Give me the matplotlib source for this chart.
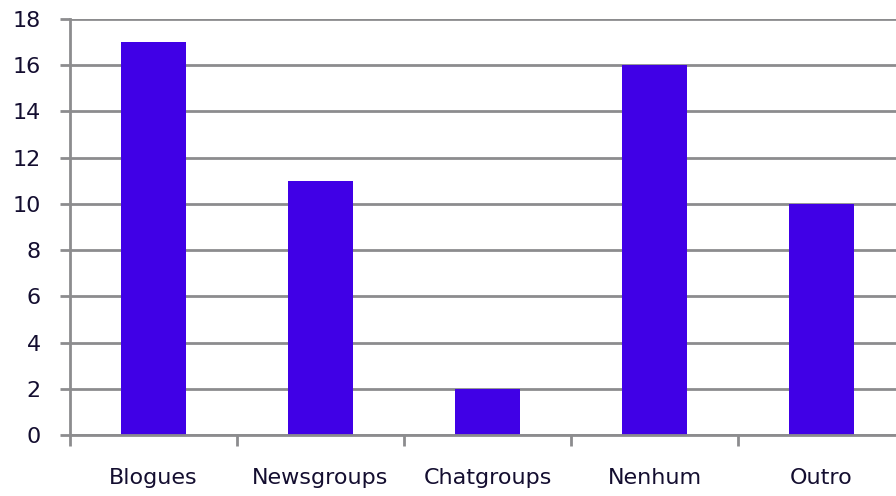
import matplotlib
matplotlib.use("Agg")
import matplotlib.pyplot as plt
import numpy as np

categories = ["Blogues", "Newsgroups", "Chatgroups", "Nenhum", "Outro"]
values = [17, 11, 2, 16, 10]
y_ticks = [0, 2, 4, 6, 8, 10, 12, 14, 16, 18]

bar_color = "#4000E6"
grid_color = "#8C8C8E"
text_color = "#140E30"

fig = plt.figure(figsize=(8.96, 4.96), dpi=100)
ax = fig.add_axes([70 / 896, (496 - 435) / 496, 835 / 896, (435 - 19) / 496])

x = np.arange(len(categories)) + 0.5
ax.bar(x, values, width=0.39, color=bar_color, zorder=3)

ax.set_xlim(0, len(categories))
ax.set_ylim(0, 18)
ax.set_yticks(y_ticks)
ax.set_yticklabels([str(t) for t in y_ticks], color=text_color, fontsize=16)

ax.set_xticks(np.arange(len(categories) + 1))
ax.set_xticklabels([])
ax.set_xticks(x, minor=True)
ax.set_xticklabels(categories, minor=True, color=text_color, fontsize=16)

ax.tick_params(axis="x", which="major", length=8, width=2, color=grid_color, direction="out")
ax.tick_params(axis="x", which="minor", length=0, pad=24)
ax.tick_params(axis="y", length=7, width=2, color=grid_color, pad=14)

ax.yaxis.grid(True, color=grid_color, linewidth=2, zorder=0)
ax.set_axisbelow(True)

for side in ("top", "right"):
    ax.spines[side].set_visible(False)
for side in ("left", "bottom"):
    ax.spines[side].set_color(grid_color)
    ax.spines[side].set_linewidth(2)
ax.spines["bottom"].set_zorder(4)

fig.savefig("out.png", dpi=100)
